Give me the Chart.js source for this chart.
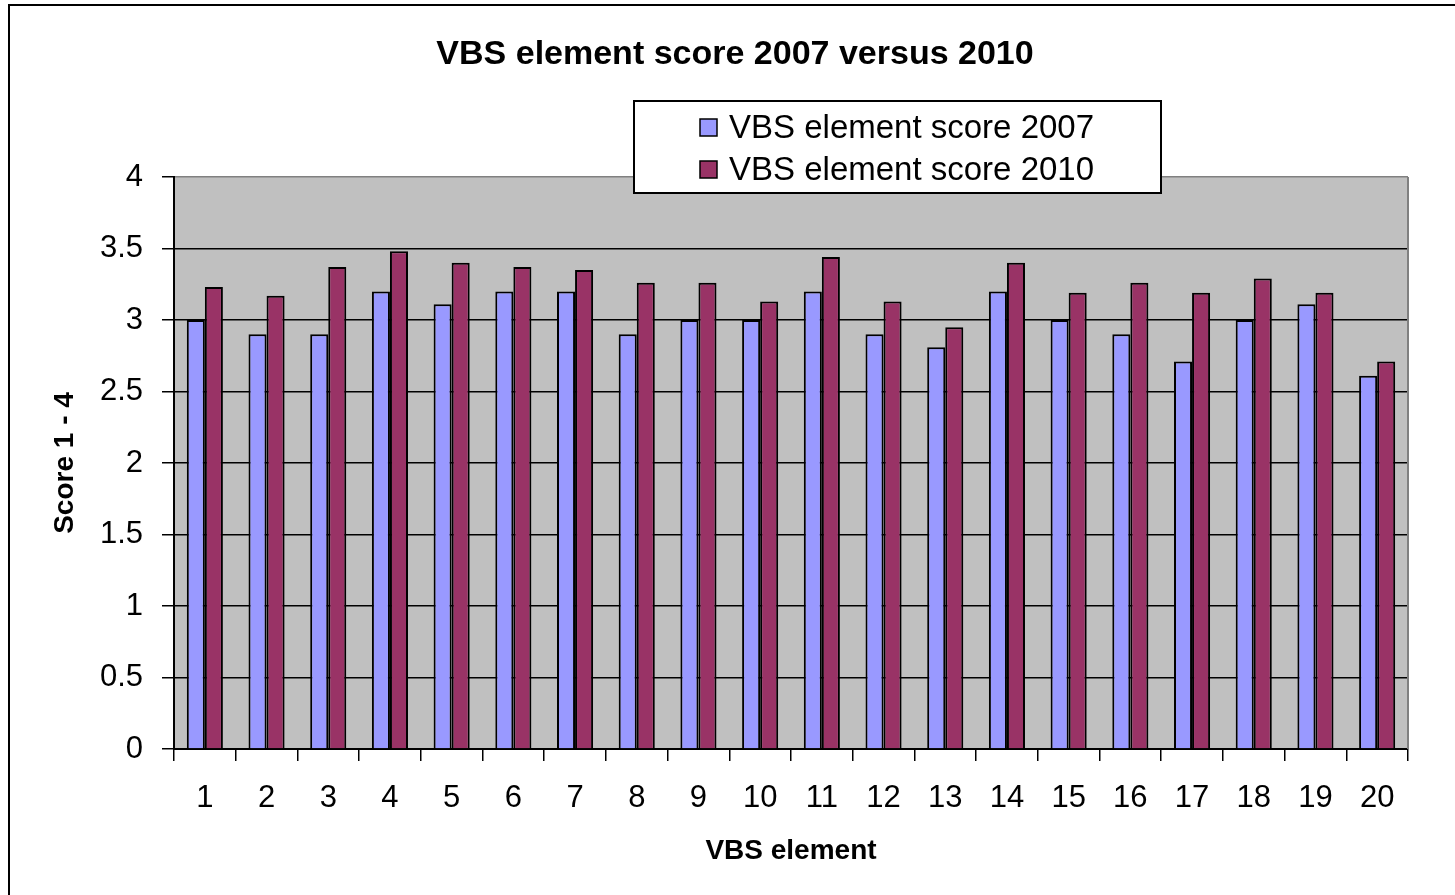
<!DOCTYPE html>
<html>
<head>
<meta charset="utf-8">
<script src="https://cdn.jsdelivr.net/npm/chart.js@4.4.0/dist/chart.umd.min.js"></script>
<style>
  html, body { margin:0; padding:0; background:#fff; overflow:hidden; }
  #wrap { position:relative; width:1455px; height:895px; }
  #frame { position:absolute; left:8px; top:4px; width:1470px; height:910px; border:2px solid #000; box-sizing:border-box; pointer-events:none; }
  canvas { position:absolute; left:0; top:0; }
</style>
</head>
<body>
<div id="wrap">
  <canvas id="c" width="1455" height="895"></canvas>
  <div id="frame"></div>
</div>
<script>
const categories = ['1','2','3','4','5','6','7','8','9','10','11','12','13','14','15','16','17','18','19','20'];
const score2007 = [3.0, 2.9, 2.9, 3.2, 3.11, 3.2, 3.2, 2.9, 3.0, 3.0, 3.2, 2.9, 2.81, 3.2, 3.0, 2.9, 2.71, 3.0, 3.11, 2.61];
const score2010 = [3.23, 3.17, 3.37, 3.48, 3.4, 3.37, 3.35, 3.26, 3.26, 3.13, 3.44, 3.13, 2.95, 3.4, 3.19, 3.26, 3.19, 3.29, 3.19, 2.71];
const yTickLabels = ['0','0.5','1','1.5','2','2.5','3','3.5','4'];
const seriesLabels = ['VBS element score 2007', 'VBS element score 2010'];
const chartTitle = 'VBS element score 2007 versus 2010';
const xTitle = 'VBS element';
const yTitle = 'Score 1 - 4';

const FONT = "'Liberation Sans', Arial, sans-serif";
const c2007 = '#9999FF', c2010 = '#993366';

const decor = {
  id: 'decor',
  beforeDraw(chart) {
    const {ctx, chartArea:a} = chart;
    ctx.save();
    ctx.fillStyle = '#C0C0C0';
    ctx.fillRect(a.left, a.top, a.right - a.left, a.bottom - a.top);
    ctx.restore();
  },
  beforeDatasetsDraw(chart) {
    const {ctx, chartArea:a} = chart;
    ctx.save();
    ctx.strokeStyle = '#808080';
    ctx.lineWidth = 2;
    ctx.beginPath();
    ctx.moveTo(a.right, a.top);
    ctx.lineTo(a.right, a.bottom);
    ctx.stroke();
    ctx.restore();
  },
  afterDraw(chart) {
    const {ctx} = chart;
    ctx.save();
    // title
    ctx.fillStyle = '#000';
    ctx.font = 'bold 34px ' + FONT;
    ctx.textAlign = 'center';
    ctx.textBaseline = 'middle';
    ctx.fillText(chartTitle, 735, 55);
    // legend
    const bx = 634, by = 101, bw = 527, bh = 92;
    ctx.fillStyle = '#fff';
    ctx.fillRect(bx, by, bw, bh);
    ctx.strokeStyle = '#000';
    ctx.lineWidth = 2;
    ctx.strokeRect(bx, by, bw, bh);
    const rows = [127, 169];
    chart.data.datasets.forEach((ds, i) => {
      const cy = rows[i];
      ctx.fillStyle = ds.backgroundColor;
      ctx.fillRect(700, cy - 8, 17, 17);
      ctx.lineWidth = 1.5;
      ctx.strokeStyle = '#000';
      ctx.strokeRect(700, cy - 8, 17, 17);
      ctx.fillStyle = '#000';
      ctx.font = '33px ' + FONT;
      ctx.textAlign = 'left';
      ctx.textBaseline = 'middle';
      ctx.fillText(ds.label, 729, cy + 2);
    });
    ctx.restore();
  }
};

new Chart(document.getElementById('c'), {
  type: 'bar',
  data: {
    labels: categories,
    datasets: [
      { label: seriesLabels[0], data: score2007, backgroundColor: c2007, borderColor: '#000', borderWidth: 2, categoryPercentage: 0.585, barPercentage: 1.0 },
      { label: seriesLabels[1], data: score2010, backgroundColor: c2010, borderColor: '#000', borderWidth: 2, categoryPercentage: 0.585, barPercentage: 1.0 }
    ]
  },
  options: {
    responsive: false,
    animation: false,
    devicePixelRatio: 1,
    layout: { padding: { left: 0, right: 47, top: 177, bottom: 0 } },
    plugins: {
      legend: { display: false },
      title: { display: false },
      tooltip: { enabled: false }
    },
    scales: {
      x: {
        offset: true,
        grid: { display: true, drawOnChartArea: false, drawTicks: true, tickLength: 12, color: '#000', tickColor: '#000', lineWidth: 1.5, offset: true },
        border: { display: true, color: '#000', width: 2 },
        ticks: { color: '#000', font: { family: FONT, size: 31 }, padding: 19, maxRotation: 0, autoSkip: false },
        title: { display: true, text: xTitle, color: '#000', font: { family: FONT, size: 28, weight: 'bold' }, padding: { top: 0, bottom: 27 } },
        afterFit(scale) { scale.height = 146; }
      },
      y: {
        min: 0, max: 4,
        ticks: { stepSize: 0.5, color: '#000', font: { family: FONT, size: 31 }, padding: 19,
          callback: (v, i) => yTickLabels[i] },
        grid: { color: (ctx) => (ctx.tick && ctx.tick.value === 4 ? '#808080' : '#000'), tickColor: '#000', lineWidth: 1.5, tickLength: 12 },
        border: { display: true, color: '#000', width: 2 },
        title: { display: true, text: yTitle, color: '#000', font: { family: FONT, size: 28, weight: 'bold' }, padding: { top: 48, bottom: 0 } },
        afterFit(scale) { scale.width = 174; }
      }
    }
  },
  plugins: [decor]
});
</script>
</body>
</html>
